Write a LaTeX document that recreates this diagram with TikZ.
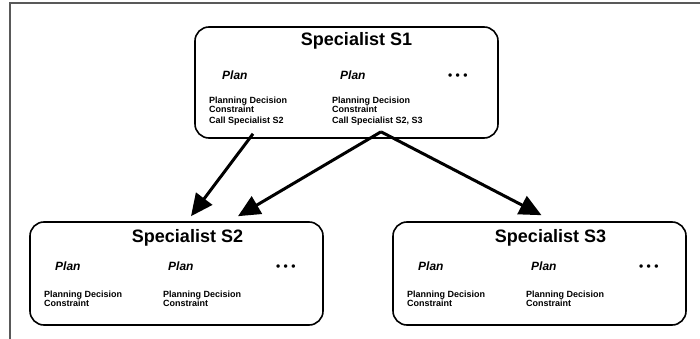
\documentclass[tikz,border=0pt]{standalone}
\usepackage{fontspec}
\setmainfont{Liberation Sans}
\usepackage{tikz}
\usetikzlibrary{arrows.meta}

\tikzset{
  specbox/.style={draw,line width=1.6pt,rounded corners=14pt,inner sep=0pt},
  spectitle/.style={anchor=base,font=\bfseries\fontsize{18}{20}\selectfont},
  plantext/.style={anchor=base west,inner sep=0pt,font=\bfseries\itshape\fontsize{12}{14}\selectfont},
  dottext/.style={anchor=base west,inner sep=0pt,font=\bfseries\fontsize{12}{14}\selectfont},
  dectext/.style={anchor=north west,inner sep=0pt,align=left,font=\bfseries\fontsize{9}{7.5}\selectfont},
  callarrow/.style={line width=3pt,-{Triangle[length=22pt,width=20pt]}}
}

\begin{document}
\begin{tikzpicture}[x=1pt,y=-1pt]
      \useasboundingbox (0,0) rectangle (700,339);
      \draw[line width=1.5pt,black!65] (10,339) -- (10,3) -- (700,3);

      % top specialist
      \node[specbox,minimum width=303pt,minimum height=111pt] (s1) at (346.5,82.5) {};
      \node[spectitle] (t1) at (356.5,46) {Specialist S1};
      \node[plantext] (p11) at (222,80) {Plan};
      \node[plantext] (p12) at (340,80) {Plan};
      \node[dottext] (d1) at (448,80) {• • •};
      \node[dectext] (a1) at (209,96.5) {Planning Decision\\Constraint\\[3.5pt]Call Specialist S2};
      \node[dectext] (b1) at (332,96.5) {Planning Decision\\Constraint\\[3.5pt]Call Specialist S2, S3};

      % lower specialists
      \foreach \x/\n in {30/2,393/3} {
        \node[specbox,minimum width=293pt,minimum height=103pt] (s\n) at (\x+146.5,273.5) {};
        \node[spectitle] (t\n) at (\x+157.5,242) {Specialist S\n};
        \node[plantext] (p\n1) at (\x+25,270) {Plan};
        \node[plantext] (p\n2) at (\x+138,270) {Plan};
        \node[dottext] (d\n) at (\x+246,270) {• • •};
        \node[dectext] (a\n) at (\x+14,290.5) {Planning Decision\\Constraint};
        \node[dectext] (b\n) at (\x+133,290.5) {Planning Decision\\Constraint};
      }

      \draw[callarrow] ([xshift=-93.5pt,yshift=5pt]s1.south) -- ([xshift=14.5pt,yshift=5pt]s2.north);
      \draw[callarrow] ([xshift=34.5pt,yshift=7pt]s1.south) -- ([xshift=61.5pt,yshift=5pt]s2.north);
      \draw[callarrow] ([xshift=34.5pt,yshift=7pt]s1.south) -- ([xshift=2pt,yshift=6pt]s3.north);
    \end{tikzpicture}
\end{document}
